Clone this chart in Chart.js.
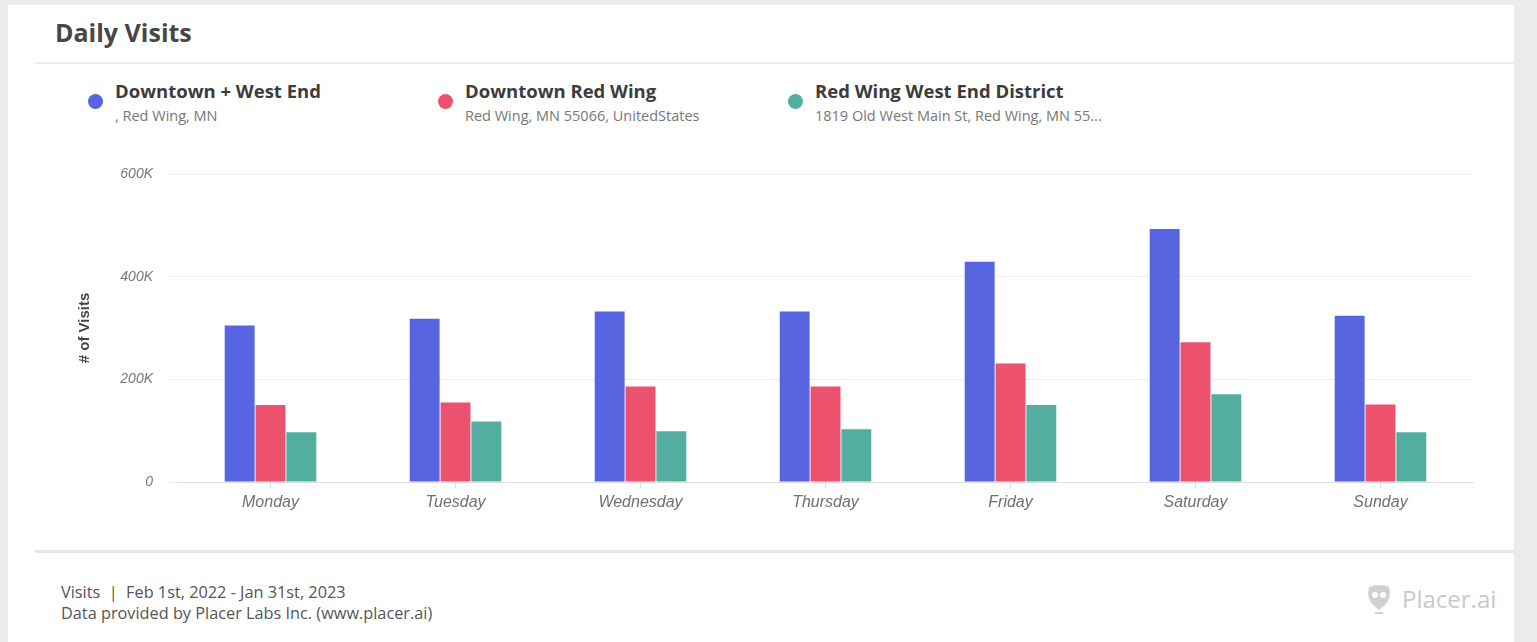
<!DOCTYPE html>
<html>
<head>
<meta charset="utf-8">
<script src="https://cdn.jsdelivr.net/npm/chart.js@4.4.0/dist/chart.umd.min.js"></script>
<style>
    body { margin: 0; background: #edebea; font-family: "Open Sans", sans-serif; }
    .card { position: absolute; left: 8px; top: 5px; width: 1506px; height: 637px; background: #fff; }
    .title { position: absolute; left: 47px; top: 10px; font-size: 25px; font-weight: 700; color: #474747; }
    .sep { position: absolute; left: 27px; width: 1479px; background: #ececec; }
    .legend-item { position: absolute; top: 73px; }
    .dot { position: absolute; left: -27px; top: 16px; width: 15px; height: 15px; border-radius: 50%; }
    .name { position: absolute; left: 0; top: 0; font-size: 18.5px; font-weight: 700; color: #3c3c3c; white-space: nowrap; }
    .sub { position: absolute; left: 0; top: 28px; font-size: 14.5px; color: #777; white-space: nowrap; }
    .footer { position: absolute; left: 53px; top: 577px; font-size: 16.3px; line-height: 21px; color: #555; }
    .logo { position: absolute; left: 1358px; top: 577px; font-size: 24px; color: #c9c9c9; display: flex; align-items: center; }
    #wrap { position: absolute; left: 52px; top: 145px; width: 1430px; height: 380px; }
</style>
</head>
<body>
<div class="card">
    <div class="title">Daily Visits</div>
    <div class="sep" style="top:57px;height:2px;"></div>
    <div id="legend"></div>
    <div id="wrap"><canvas id="myChart"></canvas></div>
    <div class="sep" style="top:545px;height:3px;background:#e6e6e6;"></div>
    <div class="footer">Visits &nbsp;|&nbsp; Feb 1st, 2022 - Jan 31st, 2023<br>Data provided by Placer Labs Inc. (www.placer.ai)</div>
    <div class="logo">
        <svg width="26" height="32" viewBox="0 0 26 32">
            <path d="M3 4 Q13 0 23 4 Q26 14 19 22 L13 27 L7 22 Q0 14 3 4 Z" fill="#d0d0d0"/>
            <circle cx="9" cy="12" r="3" fill="#fff"/>
            <circle cx="17" cy="12" r="3" fill="#fff"/>
            <rect x="9" y="29" width="8" height="2" fill="#d0d0d0"/>
        </svg>
        <span style="margin-left:10px;">Placer.ai</span>
    </div>
</div>
<script>
const days = ['Monday', 'Tuesday', 'Wednesday', 'Thursday', 'Friday', 'Saturday', 'Sunday'];
const seriesNames = ['Downtown + West End', 'Downtown Red Wing', 'Red Wing West End District'];
const seriesSubs = [', Red Wing, MN', 'Red Wing, MN 55066, UnitedStates', '1819 Old West Main St, Red Wing, MN 55...'];
const seriesColors = ['#5865e1', '#ec526e', '#53ae9f'];

const downtownWestEnd = [305000, 318000, 332000, 332000, 429000, 493000, 324000];
const downtownRedWing = [150000, 155000, 186000, 186000, 231000, 272000, 151000];
const westEndDistrict = [97000, 118000, 99000, 103000, 150000, 171000, 97000];

const yTicks = [0, 200000, 400000, 600000];

// legend drawn as html, like the original widget
const legendLeft = [107, 457, 807];
const legendEl = document.getElementById('legend');
seriesNames.forEach((name, i) => {
    const item = document.createElement('div');
    item.className = 'legend-item';
    item.style.left = legendLeft[i] + 'px';
    item.innerHTML = `<div class="dot" style="background:${seriesColors[i]}"></div>` +
        `<div class="name">${name}</div><div class="sub">${seriesSubs[i]}</div>`;
    legendEl.appendChild(item);
});

const allData = [downtownWestEnd, downtownRedWing, westEndDistrict];

const ctx = document.getElementById('myChart').getContext('2d');
const myChart = new Chart(ctx, {
    type: 'bar',
    data: {
        labels: days,
        datasets: allData.map((d, i) => ({
            label: seriesNames[i],
            data: d,
            backgroundColor: seriesColors[i],
            borderWidth: 0,
            categoryPercentage: 0.5,
            barPercentage: 0.97
        }))
    },
    options: {
        responsive: true,
        maintainAspectRatio: false,
        animation: false,
        layout: {
            padding: { top: 24, right: 17 }
        },
        plugins: {
            legend: { display: false },
            tooltip: { enabled: false }
        },
        scales: {
            x: {
                grid: { display: true, offset: false, drawOnChartArea: false, drawTicks: true, tickLength: 6, color: '#dcdcdc' },
                border: { color: '#dcdcdc', width: 1 },
                ticks: {
                    padding: 5,
                    color: '#707070',
                    font: { family: 'Liberation Sans', size: 16, style: 'italic' }
                },
                afterFit: (s) => { s.height = 48; }
            },
            y: {
                min: 0,
                max: 600000,
                afterBuildTicks: (s) => { s.ticks = yTicks.map(v => ({ value: v })); },
                grid: { color: '#efefef', tickLength: 10 },
                border: { display: false },
                ticks: {
                    padding: 15,
                    color: '#777',
                    font: { family: 'Liberation Sans', size: 14, style: 'italic' },
                    callback: (v) => v === 0 ? '0' : (v / 1000) + 'K'
                },
                title: {
                    display: true,
                    text: '# of Visits',
                    color: '#444',
                    padding: { top: 16, bottom: 0 },
                    font: { family: 'Liberation Sans', size: 15, weight: 'bold' }
                },
                afterFit: (s) => { s.width = 118; }
            }
        }
    }
});
</script>
</body>
</html>
